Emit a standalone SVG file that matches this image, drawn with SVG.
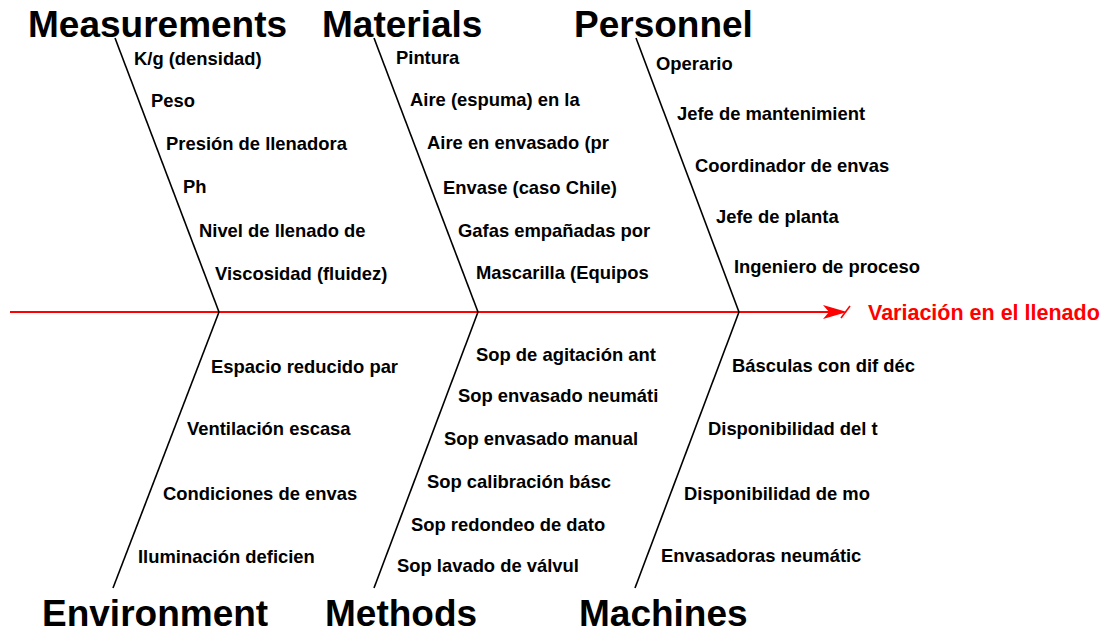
<svg xmlns="http://www.w3.org/2000/svg" width="1117" height="633" viewBox="0 0 1117 633">
<style>
.title{font-family:"Liberation Sans",Arial,sans-serif;font-weight:bold;font-size:37px;fill:#000}
.lbl{font-family:"Liberation Sans",Arial,sans-serif;font-weight:bold;font-size:18.4px;fill:#000}
.bone{stroke:#000;stroke-width:1.6;fill:none}
.spine{stroke:#ff0000;stroke-width:2;fill:none}
.effect{font-family:"Liberation Sans",Arial,sans-serif;font-weight:bold;font-size:21.5px;fill:#ff0000}
</style>
<rect width="1117" height="633" fill="#fff"/>
<g id="connectors">
<line class="spine" x1="10" y1="312" x2="840" y2="312"/>
<polygon points="847,312 823,305 829,312 823,319" fill="#ff0000"/>
<line x1="841" y1="318" x2="850" y2="306" stroke="#ff0000" stroke-width="1.6"/>
<line class="bone" x1="115" y1="38" x2="219" y2="312"/>
<line class="bone" x1="374" y1="38" x2="478" y2="312"/>
<line class="bone" x1="636" y1="38" x2="739" y2="312"/>
<line class="bone" x1="113" y1="588" x2="219" y2="312"/>
<line class="bone" x1="374" y1="588" x2="478" y2="312"/>
<line class="bone" x1="635" y1="588" x2="739" y2="312"/>
</g>
<g id="effect"><text class="effect" x="868" y="320">Variación en el llenado</text></g>
<g id="measurements">
<text class="title" x="28" y="37">Measurements</text>
<text class="lbl" x="134" y="65">K/g (densidad)</text>
<text class="lbl" x="151" y="107">Peso</text>
<text class="lbl" x="166" y="150">Presión de llenadora</text>
<text class="lbl" x="183" y="193">Ph</text>
<text class="lbl" x="199" y="237">Nivel de llenado de</text>
<text class="lbl" x="215" y="280">Viscosidad (fluidez)</text>
</g>
<g id="materials">
<text class="title" x="322" y="37">Materials</text>
<text class="lbl" x="396" y="64">Pintura</text>
<text class="lbl" x="410" y="106">Aire (espuma) en la</text>
<text class="lbl" x="427" y="149">Aire en envasado (pr</text>
<text class="lbl" x="443" y="194">Envase (caso Chile)</text>
<text class="lbl" x="458" y="237">Gafas empañadas por</text>
<text class="lbl" x="476" y="279">Mascarilla (Equipos</text>
</g>
<g id="personnel">
<text class="title" x="574" y="37">Personnel</text>
<text class="lbl" x="656" y="70">Operario</text>
<text class="lbl" x="677" y="120">Jefe de mantenimient</text>
<text class="lbl" x="695" y="172">Coordinador de envas</text>
<text class="lbl" x="716" y="223">Jefe de planta</text>
<text class="lbl" x="734" y="273">Ingeniero de proceso</text>
</g>
<g id="environment">
<text class="title" x="42" y="626">Environment</text>
<text class="lbl" x="211" y="373">Espacio reducido par</text>
<text class="lbl" x="187" y="435">Ventilación escasa</text>
<text class="lbl" x="163" y="500">Condiciones de envas</text>
<text class="lbl" x="138" y="563">Iluminación deficien</text>
</g>
<g id="methods">
<text class="title" x="325" y="626">Methods</text>
<text class="lbl" x="476" y="361">Sop de agitación ant</text>
<text class="lbl" x="458" y="402">Sop envasado neumáti</text>
<text class="lbl" x="444" y="445">Sop envasado manual</text>
<text class="lbl" x="427" y="488">Sop calibración básc</text>
<text class="lbl" x="411" y="531">Sop redondeo de dato</text>
<text class="lbl" x="397" y="572">Sop lavado de válvul</text>
</g>
<g id="machines">
<text class="title" x="579" y="626">Machines</text>
<text class="lbl" x="732" y="372">Básculas con dif déc</text>
<text class="lbl" x="708" y="435">Disponibilidad del t</text>
<text class="lbl" x="684" y="500">Disponibilidad de mo</text>
<text class="lbl" x="661" y="562">Envasadoras neumátic</text>
</g>
</svg>
